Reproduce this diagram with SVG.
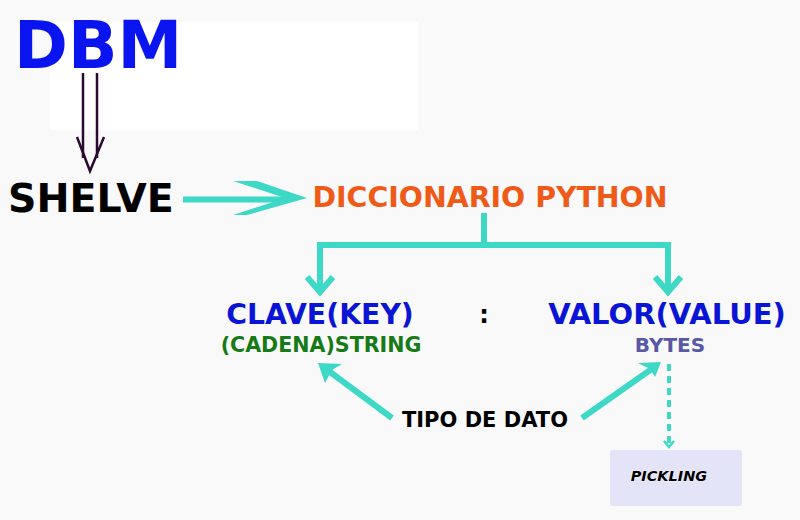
<svg xmlns="http://www.w3.org/2000/svg" width="800" height="520" viewBox="0 0 800 520">
<defs>
<style>
text{font-family:"DejaVu Sans","Verdana",sans-serif;font-weight:bold;}
.t{fill:none;stroke:#3ed8c6;stroke-width:6;stroke-linecap:butt;}
.th{fill:#3ed8c6;}
</style>
</defs>
<rect width="800" height="520" fill="#f9f9fa"/>
<rect x="50" y="22" width="368" height="108" fill="#ffffff"/>
<g id="dbm"><text x="14" y="68" font-size="65" fill="#0a14ee">DBM</text></g>
<g id="shelve"><text x="8" y="212" font-size="39.5" fill="#000000">SHELVE</text></g>
<g id="diccionario"><text x="490" y="207" font-size="28.4" fill="#f05a18" text-anchor="middle">DICCIONARIO PYTHON</text></g>
<g id="clave"><text x="320" y="324" font-size="28.3" fill="#0a14d4" text-anchor="middle">CLAVE(KEY)</text><text x="321" y="352" font-size="20.6" fill="#167a16" text-anchor="middle">(CADENA)STRING</text></g>
<g id="sep"><text x="484" y="323" font-size="24" fill="#000" text-anchor="middle">:</text></g>
<g id="valor"><text x="667" y="324" font-size="29" fill="#0a14d4" text-anchor="middle">VALOR(VALUE)</text><text x="670" y="352" font-size="20" fill="#5858a6" text-anchor="middle">BYTES</text></g>
<g id="tipo"><text x="485" y="427" font-size="21" fill="#000" text-anchor="middle">TIPO DE DATO</text></g>
<g id="pickling"><rect x="610" y="450" width="132" height="56" rx="3" fill="#e4e4f8"/><text x="669" y="481" font-size="14.5" font-style="italic" fill="#000" text-anchor="middle" stroke="#fff" stroke-width="0.5" paint-order="stroke">PICKLING</text></g>
<g id="connectors">
<g fill="none" stroke="#2a0a30" stroke-width="2.5">
<line x1="83" y1="73" x2="83" y2="158"/>
<line x1="97" y1="73" x2="97" y2="158"/>
<polyline points="77,137 90,171 104,137"/>
</g>
<line class="t" x1="183" y1="199.5" x2="288" y2="199.5"/>
<polygon class="th" points="233,181 257,181 307,198 247,215 233,215 285,198"/>
<polyline class="t" points="484,213 484,245"/>
<polyline class="t" points="320,290 320,245 668,245 668,290"/>
<polyline class="t" points="307,277 320,292 333,277"/>
<polyline class="t" points="655,277 668,292 681,277"/>
<line class="t" x1="392" y1="418" x2="326" y2="369"/>
<polygon class="th" points="318,363 342,364 332,370 325,383"/>
<line class="t" x1="582" y1="418" x2="653" y2="368"/>
<polygon class="th" points="661,362 655,377 650,369 638,363"/>
<line x1="669" y1="364" x2="669" y2="444" stroke="#3ed8c6" stroke-width="4" stroke-dasharray="7,5"/>
<polyline points="664,441 669,447 674,441" fill="none" stroke="#3ed8c6" stroke-width="2.5"/>
</g>
</svg>
